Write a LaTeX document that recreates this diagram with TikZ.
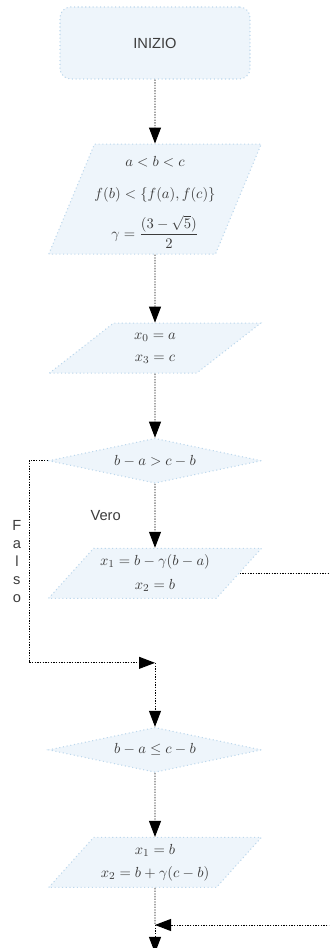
\documentclass[tikz,border=0pt]{standalone}
\usepackage{amsmath,amssymb}
\usepackage{fontspec}
\setsansfont{Liberation Sans}
\usepackage{tikz}
\usetikzlibrary{shapes.geometric,arrows.meta,positioning}
\usepackage{xcolor}
\definecolor{boxfill}{HTML}{EEF5FB}
\definecolor{boxline}{HTML}{BCD7EC}
\definecolor{txtgray}{HTML}{3C3C3C}

\begin{document}
\begin{tikzpicture}[
    x=0.75pt, y=-0.75pt,
    node distance=48pt,
    startbox/.style={rectangle, rounded corners=8pt, draw=boxline, dotted, thick,
                     fill=boxfill, minimum width=142.5pt, minimum height=54pt,
                     text=txtgray, font=\sffamily\fontsize{11}{13}\selectfont},
    iobox/.style={trapezium, trapezium left angle=44, trapezium right angle=136,
                  trapezium stretches=true, draw=boxline, dotted, thick, fill=boxfill,
                  minimum width=159.75pt, minimum height=37.5pt, inner sep=1pt,
                  align=center, text=txtgray, font=\fontsize{11}{14}\selectfont},
    decision/.style={diamond, aspect=4.7, draw=boxline, dotted, thick, fill=boxfill,
                     minimum width=159.75pt, minimum height=33.75pt, inner sep=0pt,
                     text=txtgray, font=\fontsize{11}{13}\selectfont},
    arr/.style={-{Triangle[length=12pt,width=9pt]}, dash pattern=on 1pt off 1pt,
                line width=0.7pt, black},
    wire/.style={dash pattern=on 1pt off 1pt, line width=0.7pt, black},
    lbl/.style={text=txtgray, font=\sffamily\fontsize{11}{13.5}\selectfont}
]
\useasboundingbox (0,0) rectangle (329,948);
\clip (0,0) rectangle (329,948);

% --- start and input ---
\node[startbox] (start) at (155,43) {INIZIO};
\node[iobox, below=of start, trapezium left angle=65, trapezium right angle=115,
      minimum height=82.5pt, inner sep=0pt] (input)
     {\rule{0pt}{12pt}$a<b<c$\\[10pt]$f(b)<\{f(a),f(c)\}$\\[9pt]$\gamma=\dfrac{(3-\sqrt{5})}{2}$};
\node[iobox, below=51pt of input] (init) {$x_0=a$\\[2.5pt]$x_3=c$};

% --- first test ---
\node[decision, below=of init] (test1) {$b-a>c-b$};
\node[iobox, below=of test1] (upd1) {$x_1=b-\gamma(b-a)$\\[4pt]$x_2=b$};
\coordinate[below=of upd1] (join1);

% --- second test ---
\node[decision, below=of join1] (test2) {$b-a\leq c-b$};
\node[iobox, below=of test2] (upd2) {$x_1=b$\\[3pt]$x_2=b+\gamma(c-b)$};
\coordinate[below=27.75pt of upd2] (join2);
\coordinate[below=21pt of join2] (stop);

% arrows
\draw[arr] (start) -- (input);
\draw[arr] (input) -- (init);
\draw[arr] (init) -- (test1);
\draw[arr] (test1) -- node[lbl, left=22pt]{Vero} (upd1);
\draw[arr] (test1.west) -- ++(-14.25pt,0) |- node[lbl, pos=0.25, left=2pt, align=center]{F\\a\\l\\s\\o} (join1);
\draw[arr] (join1) -- (test2);
\draw[arr] (test2) -- (upd2);
\draw[arr] (upd1.east) -- ++(105pt,0) |- (join2);
\draw[wire] (upd2) -- (join2);
\draw[arr] (join2) -- (stop);

\end{tikzpicture}
\end{document}
